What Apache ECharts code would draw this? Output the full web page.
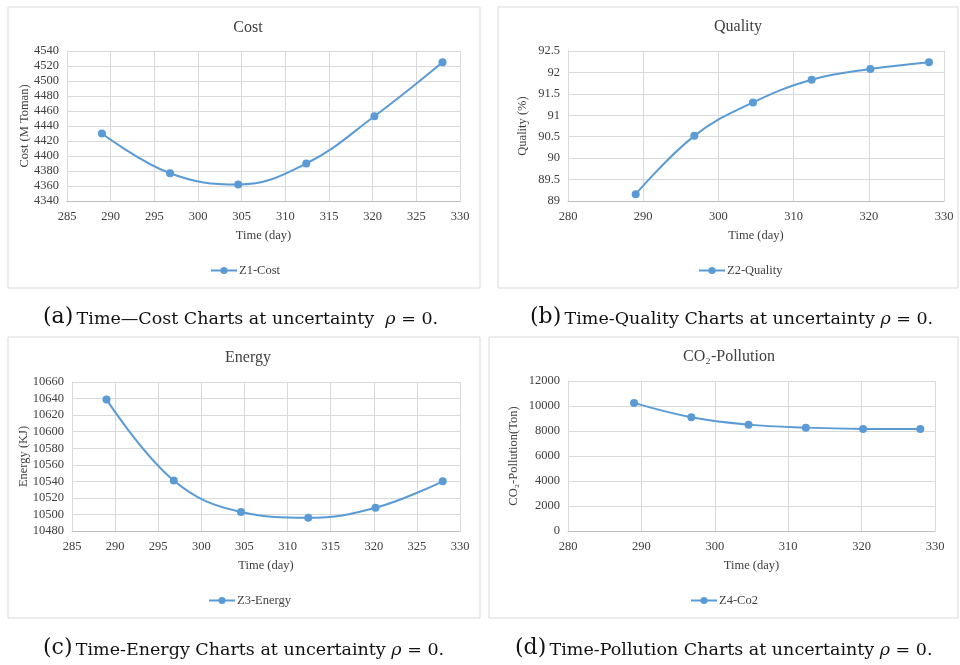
<!DOCTYPE html>
<html>
<head>
<meta charset="utf-8">
<script src="https://cdn.jsdelivr.net/npm/echarts@6/dist/echarts.min.js"></script>
<style>html,body{margin:0;padding:0;background:#fff;}#c{width:960px;height:665px;}</style>
</head>
<body>
<div id="c"></div>
<script>
// ---- data ----
var timeDays = [289, 296.8, 304.6, 312.4, 320.2, 328];
var costValues = [4430, 4377, 4362, 4390, 4453, 4525];
var qualityValues = [89.16, 90.52, 91.30, 91.83, 92.08, 92.24];
var energyValues = [10639, 10541, 10503, 10496, 10508, 10540];
var co2Values = [10250, 9100, 8510, 8270, 8170, 8160];
var seriesNames = ['Z1-Cost', 'Z2-Quality', 'Z3-Energy', 'Z4-Co2'];
var chartTitles = ['Cost', 'Quality', 'Energy', 'CO\u2082-Pollution'];
var yTitles = ['Cost (M Toman)', 'Quality (%)', 'Energy (KJ)', 'CO\u2082-Pollution(Ton)'];
var xTitle = 'Time (day)';
var captionLetters = ['(a)', '(b)', '(c)', '(d)'];
var captionTexts = ['Time\u2014Cost Charts at uncertainty  ', 'Time-Quality Charts at uncertainty ', 'Time-Energy Charts at uncertainty ', 'Time-Pollution Charts at uncertainty '];

function pairs(vals) { return timeDays.map(function (t, i) { return [t, vals[i]]; }); }
var allValues = [costValues, qualityValues, energyValues, co2Values];

var FONT = 'Liberation Serif';
var TXT = '#404040';
var LINE = '#5b9bd5';
var GRIDC = '#d9d9d9';

var grids = [
  {left: 67, right: 500, top: 51, height: 150},
  {left: 568, right: 16, top: 51, height: 150},
  {left: 72, right: 500, top: 382, height: 149},
  {left: 568, right: 25, top: 381, height: 150}
];
var xCfg = [
  {min: 285, max: 330, interval: 5},
  {min: 280, max: 330, interval: 10},
  {min: 285, max: 330, interval: 5},
  {min: 280, max: 330, interval: 10}
];
var yCfg = [
  {min: 4340, max: 4540, interval: 20, gap: 36},
  {min: 89, max: 92.5, interval: 0.5, gap: 39},
  {min: 10480, max: 10660, interval: 20, gap: 42},
  {min: 0, max: 12000, interval: 2000, gap: 48}
];
var titlePos = [[243, 15], [733, 14], [243, 345], [724, 344]];
var legendPos = [[247, 259], [735, 259], [245, 589], [727, 589]];
var boxes = [[8, 7, 472, 281], [498, 7, 460, 281], [8, 337, 472, 281], [489, 337, 469, 281]];
var capPos = [[43, 320], [530, 320], [43, 651], [515, 651]];

var option = {
  backgroundColor: '#fff',
  animation: false,
  textStyle: {fontFamily: FONT, color: TXT},
  title: chartTitles.map(function (t, i) {
    return {text: t, left: titlePos[i][0], top: titlePos[i][1], textAlign: 'center',
      textStyle: {fontFamily: FONT, fontSize: 16, fontWeight: 'normal', color: TXT}};
  }),
  legend: seriesNames.map(function (n, i) {
    return {data: [n], left: legendPos[i][0] - 42, top: legendPos[i][1], itemWidth: 26, itemHeight: 9, itemGap: 4,
      textStyle: {fontFamily: FONT, fontSize: 12.5, color: TXT, padding: [0,0,0,-3]}};
  }),
  grid: grids,
  xAxis: xCfg.map(function (c, i) {
    return {type: 'value', gridIndex: i, min: c.min, max: c.max, interval: c.interval,
      name: xTitle, nameLocation: 'middle', nameGap: 28,
      nameTextStyle: {fontFamily: FONT, fontSize: 12.5, color: TXT},
      axisLine: {show: true, lineStyle: {color: '#bfbfbf'}},
      axisTick: {show: false},
      axisLabel: {fontFamily: FONT, fontSize: 12.5, color: TXT, margin: 9},
      splitLine: {show: true, lineStyle: {color: GRIDC}}};
  }),
  yAxis: yCfg.map(function (c, i) {
    return {type: 'value', gridIndex: i, min: c.min, max: c.max, interval: c.interval,
      name: yTitles[i], nameLocation: 'middle', nameGap: c.gap, nameRotate: 90,
      nameMoveOverlap: false,
      nameTextStyle: {fontFamily: FONT, fontSize: 12.5, color: TXT},
      axisLine: {show: true, lineStyle: {color: GRIDC}},
      axisTick: {show: false},
      axisLabel: {fontFamily: FONT, fontSize: 12.5, color: TXT, margin: 8,
        formatter: function (v) { return String(v); }},
      splitLine: {show: true, lineStyle: {color: GRIDC}}};
  }),
  series: seriesNames.map(function (n, i) {
    return {type: 'line', name: n, xAxisIndex: i, yAxisIndex: i, data: pairs(allValues[i]),
      smooth: 0.4, symbol: 'circle', symbolSize: 8,
      lineStyle: {color: LINE, width: 2}, itemStyle: {color: LINE}};
  }),
  graphic: boxes.map(function (b) {
    return {type: 'rect', shape: {x: b[0], y: b[1], width: b[2], height: b[3]}, silent: true, z: -1,
      style: {fill: 'none', stroke: '#d9d9d9', lineWidth: 1}};
  }).concat(captionLetters.map(function (l, i) {
    return {type: 'text', left: capPos[i][0], top: capPos[i][1] - 14,
      style: {text: '{l|' + l + '} {t|' + captionTexts[i] + '}{r|\u03c1}{t| = 0.}',
        rich: {
          l: {fontFamily: 'DejaVu Serif', fontSize: 22, fill: '#111', verticalAlign: 'bottom'},
          t: {fontFamily: 'DejaVu Serif', fontSize: 17.5, fill: '#111', verticalAlign: 'bottom'},
          r: {fontFamily: 'DejaVu Serif', fontStyle: 'italic', fontSize: 17.5, fill: '#111', verticalAlign: 'bottom'}
        }}};
  }))
};
var chart = echarts.init(document.getElementById('c'), null, {renderer: 'canvas'});
chart.setOption(option);
</script>
</body>
</html>
